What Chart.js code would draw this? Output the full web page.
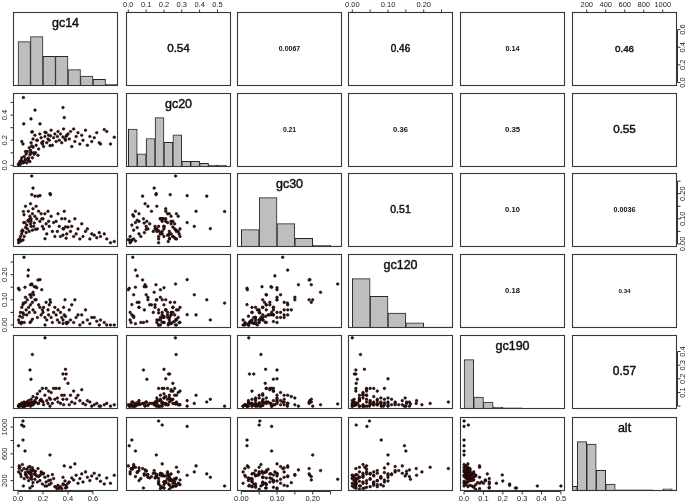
<!DOCTYPE html>
<html>
<head>
<meta charset="utf-8">
<script src="https://cdn.jsdelivr.net/npm/chart.js@4.4.0/dist/chart.umd.min.js"></script>
<style>
  body { margin: 0; background: #fff; width: 685px; height: 502px; overflow: hidden; position: relative; }
  canvas { position: absolute; }
</style>
</head>
<body>
<script>
// ---- observations (one value per site, same order in every array) ----
const gc14 = [0.040, 0.030, 0.046, 0.040, 0.004, 0.056, 0.256, 0.216, 0.115, 0.380,
  0.096, 0.360, 0.385, 0.104, 0.376, 0.400, 0.110, 0.043, 0.136, 0.360,
  0.370, 0.104, 0.176, 0.690, 0.710, 0.770, 0.660, 0.120, 0.110, 0.160,
  0.260, 0.048, 0.083, 0.080, 0.100, 0.010, 0.130, 0.140, 0.150, 0.190,
  0.060, 0.005, 0.010, 0.015, 0.020, 0.025, 0.030, 0.035, 0.050, 0.060,
  0.065, 0.070, 0.075, 0.085, 0.090, 0.095, 0.100, 0.105, 0.115, 0.120,
  0.125, 0.135, 0.145, 0.155, 0.165, 0.175, 0.185, 0.195, 0.200, 0.205,
  0.215, 0.225, 0.230, 0.240, 0.245, 0.250, 0.265, 0.275, 0.285, 0.295,
  0.305, 0.315, 0.320, 0.330, 0.340, 0.350, 0.365, 0.390, 0.410, 0.420,
  0.430, 0.445, 0.455, 0.465, 0.480, 0.495, 0.510, 0.520, 0.540, 0.555,
  0.575, 0.590, 0.610, 0.630, 0.650, 0.740];
const gc20 = [0.170, 0.190, 0.330, 0.020, 0.005, 0.040, 0.157, 0.264, 0.268, 0.200,
  0.085, 0.226, 0.232, 0.104, 0.210, 0.250, 0.265, 0.540, 0.440, 0.460,
  0.380, 0.370, 0.330, 0.285, 0.270, 0.224, 0.170, 0.145, 0.155, 0.080,
  0.235, 0.025, 0.040, 0.050, 0.094, 0.000, 0.089, 0.100, 0.200, 0.180,
  0.110, 0.010, 0.015, 0.030, 0.010, 0.040, 0.060, 0.030, 0.070, 0.050,
  0.090, 0.020, 0.110, 0.060, 0.140, 0.030, 0.120, 0.180, 0.060, 0.210,
  0.100, 0.240, 0.160, 0.200, 0.130, 0.250, 0.220, 0.170, 0.190, 0.150,
  0.230, 0.260, 0.180, 0.210, 0.240, 0.200, 0.280, 0.160, 0.220, 0.250,
  0.190, 0.230, 0.270, 0.200, 0.250, 0.180, 0.290, 0.240, 0.210, 0.270,
  0.150, 0.290, 0.190, 0.230, 0.260, 0.170, 0.240, 0.200, 0.280, 0.160,
  0.230, 0.190, 0.220, 0.260, 0.180, 0.170];
const gc30 = [0.052, 0.050, 0.085, 0.016, 0.016, 0.085, 0.200, 0.021, 0.055, 0.068,
  0.100, 0.035, 0.023, 0.090, 0.100, 0.067, 0.270, 0.129, 0.190, 0.061,
  0.130, 0.070, 0.192, 0.040, 0.020, 0.010, 0.030, 0.222, 0.196, 0.190,
  0.196, 0.116, 0.130, 0.094, 0.160, 0.017, 0.083, 0.058, 0.100, 0.100,
  0.150, 0.005, 0.010, 0.020, 0.030, 0.012, 0.040, 0.055, 0.030, 0.065,
  0.045, 0.075, 0.060, 0.090, 0.050, 0.110, 0.080, 0.100, 0.120, 0.140,
  0.070, 0.110, 0.150, 0.060, 0.130, 0.090, 0.120, 0.070, 0.100, 0.060,
  0.120, 0.080, 0.040, 0.130, 0.090, 0.070, 0.110, 0.050, 0.085, 0.030,
  0.090, 0.050, 0.120, 0.070, 0.030, 0.100, 0.060, 0.040, 0.090, 0.050,
  0.070, 0.030, 0.100, 0.040, 0.060, 0.020, 0.080, 0.030, 0.050, 0.060,
  0.020, 0.040, 0.035, 0.025, 0.045, 0.005];
const gc120 = [0.048, 0.011, 0.041, 0.081, 0.146, 0.150, 0.100, 0.000, 0.023, 0.034,
  0.010, 0.006, 0.010, 0.014, 0.100, 0.011, 0.163, 0.087, 0.100, 0.020,
  0.040, 0.120, 0.180, 0.010, 0.000, 0.000, 0.020, 0.130, 0.160, 0.179,
  0.090, 0.269, 0.218, 0.195, 0.160, 0.140, 0.152, 0.152, 0.148, 0.140,
  0.110, 0.020, 0.010, 0.035, 0.050, 0.005, 0.070, 0.030, 0.010, 0.090,
  0.060, 0.040, 0.100, 0.070, 0.050, 0.120, 0.080, 0.110, 0.090, 0.060,
  0.120, 0.050, 0.100, 0.030, 0.080, 0.070, 0.040, 0.060, 0.050, 0.070,
  0.030, 0.090, 0.020, 0.060, 0.040, 0.080, 0.030, 0.010, 0.050, 0.070,
  0.040, 0.020, 0.060, 0.010, 0.050, 0.030, 0.070, 0.005, 0.060, 0.020,
  0.080, 0.010, 0.100, 0.030, 0.040, 0.000, 0.040, 0.010, 0.060, 0.020,
  0.005, 0.030, 0.030, 0.015, 0.000, 0.000];
const gc190 = [0.000, 0.022, 0.000, 0.000, 0.000, 0.000, 0.000, 0.500, 0.378, 0.270,
  0.265, 0.235, 0.235, 0.197, 0.200, 0.167, 0.016, 0.000, 0.030, 0.050,
  0.080, 0.020, 0.040, 0.010, 0.020, 0.010, 0.000, 0.010, 0.030, 0.020,
  0.050, 0.030, 0.020, 0.010, 0.000, 0.010, 0.020, 0.030, 0.060, 0.040,
  0.010, 0.000, 0.010, 0.000, 0.010, 0.005, 0.020, 0.000, 0.015, 0.025,
  0.010, 0.030, 0.005, 0.040, 0.020, 0.010, 0.020, 0.050, 0.010, 0.070,
  0.030, 0.040, 0.060, 0.090, 0.020, 0.110, 0.050, 0.130, 0.030, 0.010,
  0.080, 0.130, 0.040, 0.020, 0.110, 0.060, 0.100, 0.020, 0.130, 0.050,
  0.130, 0.060, 0.030, 0.130, 0.020, 0.080, 0.010, 0.050, 0.010, 0.080,
  0.030, 0.110, 0.020, 0.060, 0.080, 0.040, 0.120, 0.020, 0.010, 0.040,
  0.030, 0.000, 0.010, 0.020, 0.000, 0.000];
const alt = [1090, 1030, 1010, 806, 721, 642, 583, 120, 120, 90,
  90, 150, 130, 285, 195, 160, 220, 120, 300, 250,
  420, 330, 280, 150, 240, 280, 190, 350, 260, 380,
  210, 380, 400, 330, 360, 420, 300, 340, 270, 310,
  290, 330, 380, 400, 300, 260, 350, 440, 230, 320,
  280, 370, 250, 200, 310, 410, 240, 300, 390, 170,
  350, 220, 280, 180, 260, 200, 330, 150, 300, 310,
  250, 180, 120, 270, 200, 140, 160, 290, 230, 110,
  100, 70, 130, 90, 110, 80, 140, 100, 180, 400,
  240, 210, 450, 280, 160, 230, 300, 180, 330, 250,
  200, 270, 310, 230, 280, 160];

// ---- histogram counts ----
const gc14Counts = [27, 30, 18, 18, 10, 6, 4, 1];          // bins of 0.1 from 0
const gc20Counts = [20, 7, 15, 26, 13, 17, 3, 3, 2, 1, 1];  // bins of 0.05 from 0
const gc30Counts = [20, 57, 27, 10, 2, 1];                 // bins of 0.05 from 0
const gc120Counts = [56, 36, 17, 6, 1, 1];                 // bins of 0.05 from 0
const gc190Counts = [78, 19, 11, 3, 2, 2, 0, 1, 0, 1];     // bins of 0.05 from 0
const altCounts = [4, 43, 41, 18, 6, 1, 1, 1, 1, 0, 2];    // bins of 100 from 0

// ---- tick values ----
const gc14Ticks = [0, 0.2, 0.4, 0.6];
const gc20Ticks = [0, 0.1, 0.2, 0.3, 0.4, 0.5];
const gc30Ticks = [0, 0.05, 0.1, 0.15, 0.2, 0.25];
const gc120Ticks = [0, 0.05, 0.1, 0.15, 0.2, 0.25];
const gc190Ticks = [0, 0.1, 0.2, 0.3, 0.4, 0.5];
const altTicks = [200, 400, 600, 800, 1000];

// ---- correlation labels for the upper panels ----
const corText = [
  [null, '0.54', '0.0067', '0.46', '0.14', '0.46'],
  [null, null, '0.21', '0.36', '0.35', '0.55'],
  [null, null, null, '0.51', '0.10', '0.0036'],
  [null, null, null, null, '0.18', '0.34'],
  [null, null, null, null, null, '0.57']
];
const corSize = [
  [0, 11.7, 7, 10, 7.3, 9.8],
  [0, 0, 6.8, 7.6, 7.8, 11.7],
  [0, 0, 0, 10.5, 7.6, 7.2],
  [0, 0, 0, 0, 7.6, 6.2],
  [0, 0, 0, 0, 0, 12]
];

const names = ['gc14', 'gc20', 'gc30', 'gc120', 'gc190', 'alt'];
const columns = [gc14, gc20, gc30, gc120, gc190, alt];
const counts = [gc14Counts, gc20Counts, gc30Counts, gc120Counts, gc190Counts, altCounts];
const binWidth = [0.1, 0.05, 0.05, 0.05, 0.05, 100];
const ranges = [[-0.04, 0.80], [-0.013, 0.576], [-0.012, 0.282], [-0.012, 0.282], [-0.021, 0.521], [45, 1150]];

// outer axes: R pairs style, alternating sides
const axes = [
  { row: 0, col: 1, side: 'top', ticks: gc20Ticks, labels: ['0.0', '0.1', '0.2', '0.3', '0.4', '0.5'] },
  { row: 0, col: 3, side: 'top', ticks: gc120Ticks, labels: ['0.00', '', '0.10', '', '0.20', ''] },
  { row: 0, col: 5, side: 'top', ticks: altTicks, labels: ['200', '400', '600', '800', '1000'] },
  { row: 5, col: 0, side: 'bottom', ticks: gc14Ticks, labels: ['0.0', '0.2', '0.4', '0.6'] },
  { row: 5, col: 2, side: 'bottom', ticks: gc30Ticks, labels: ['0.00', '', '0.10', '', '0.20', ''] },
  { row: 5, col: 4, side: 'bottom', ticks: gc190Ticks, labels: ['0.0', '0.1', '0.2', '0.3', '0.4', '0.5'] },
  { row: 1, col: 0, side: 'left', ticks: gc20Ticks, labels: ['0.0', '', '0.2', '', '0.4', ''] },
  { row: 3, col: 0, side: 'left', ticks: gc120Ticks, labels: ['0.00', '', '0.10', '', '0.20', ''] },
  { row: 5, col: 0, side: 'left', ticks: altTicks, labels: ['200', '', '600', '', '1000'] },
  { row: 0, col: 5, side: 'right', ticks: gc14Ticks, labels: ['0.0', '0.2', '0.4', '0.6'] },
  { row: 2, col: 5, side: 'right', ticks: gc30Ticks, labels: ['0.00', '', '0.10', '', '0.20', ''] },
  { row: 4, col: 5, side: 'right', ticks: gc190Ticks.slice(0, 5), labels: ['', '0.1', '0.2', '0.3', '0.4'] }
];

// layout
const M = 14;
const colLeft = [13, 126, 237, 348, 460, 572];
const rowTop = [12, 93, 173, 254, 335, 417];
const PW = 105, PH = 74;
const FONT = '"Liberation Sans", Arial, Helvetica, sans-serif';

function drawAxis(chart, ax) {
  const ctx = chart.ctx, a = chart.chartArea;
  const horiz = ax.side === 'top' || ax.side === 'bottom';
  const scale = horiz ? chart.scales.x : chart.scales.y;
  const pos = ax.ticks.map(v => scale.getPixelForValue(v));
  const dir = (ax.side === 'top' || ax.side === 'left') ? -1 : 1;
  ctx.strokeStyle = '#333';
  ctx.lineWidth = 1;
  ctx.fillStyle = '#222';
  ctx.font = '7.5px ' + FONT;
  ctx.textAlign = 'center';
  ctx.textBaseline = 'middle';
  ctx.beginPath();
  if (horiz) {
    const y = (ax.side === 'top' ? a.top : a.bottom) + 0.5;
    ctx.moveTo(pos[0], y);
    ctx.lineTo(pos[pos.length - 1], y);
    pos.forEach(p => { ctx.moveTo(p, y); ctx.lineTo(p, y + dir * 3); });
    ctx.stroke();
    const off = ax.side === 'top' ? 8 : 7;
    pos.forEach((p, i) => { if (ax.labels[i]) ctx.fillText(ax.labels[i], p, y + dir * off); });
  } else {
    const x = (ax.side === 'left' ? a.left : a.right) + 0.5;
    ctx.moveTo(x, pos[0]);
    ctx.lineTo(x, pos[pos.length - 1]);
    pos.forEach(p => { ctx.moveTo(x, p); ctx.lineTo(x + dir * 3, p); });
    ctx.stroke();
    const off = ax.side === 'left' ? 8.5 : 5;
    pos.forEach((p, i) => {
      if (!ax.labels[i]) return;
      ctx.save();
      ctx.translate(x + dir * off, p);
      ctx.rotate(-Math.PI / 2);
      ctx.fillText(ax.labels[i], 0, 0);
      ctx.restore();
    });
  }
}

// regular weight text, thickened slightly with a thin outline
function heavyText(ctx, txt, x, y, size) {
  ctx.font = size + 'px ' + FONT;
  ctx.fillText(txt, x, y);
  ctx.lineWidth = 0.45;
  ctx.strokeStyle = '#111';
  ctx.strokeText(txt, x, y);
}

function panelPlugin(r, c) {
  return {
    id: 'panel' + r + '_' + c,
    afterDatasetsDraw(chart) {
      const ctx = chart.ctx, a = chart.chartArea;
      ctx.save();
      ctx.fillStyle = '#111';
      ctx.textAlign = 'center';
      ctx.textBaseline = 'middle';
      const cx = (a.left + a.right) / 2;
      if (r === c) {
        heavyText(ctx, names[r], cx, a.top + 12, 12.5);
      } else if (r < c) {
        const s = corSize[r][c];
        if (s < 9) {
          ctx.font = 'bold ' + s + 'px ' + FONT;
          ctx.fillText(corText[r][c], cx, (a.top + a.bottom) / 2);
        } else {
          heavyText(ctx, corText[r][c], cx, (a.top + a.bottom) / 2, s);
        }
      }
      ctx.strokeStyle = '#383838';
      ctx.lineWidth = 1.1;
      ctx.strokeRect(Math.round(a.left) + 0.5, Math.round(a.top) + 0.5, Math.round(a.width) - 1, Math.round(a.height) - 1);
      axes.filter(ax => ax.row === r && ax.col === c).forEach(ax => drawAxis(chart, ax));
      ctx.restore();
    }
  };
}

for (let r = 0; r < 6; r++) {
  for (let c = 0; c < 6; c++) {
    const cv = document.createElement('canvas');
    cv.width = PW + 2 * M;
    cv.height = PH + 2 * M;
    cv.style.left = (colLeft[c] - M) + 'px';
    cv.style.top = (rowTop[r] - M) + 'px';
    document.body.appendChild(cv);

    let type, datasets, yMin, yMax;
    const xScale = { type: 'linear', display: false, offset: false, min: ranges[c][0], max: ranges[c][1] };
    if (r === c) {
      type = 'bar';
      const w = binWidth[c];
      const bins = counts[c];
      const edges = bins.map((n, k) => k * w).concat([bins.length * w]);
      xScale.afterBuildTicks = s => { s.ticks = edges.map(v => ({ value: v })); };
      datasets = [{
        data: bins.map((n, k) => ({ x: (k + 0.5) * w, y: n })).filter(p => p.y > 0),
        backgroundColor: '#bebebe',
        borderColor: '#262626',
        borderWidth: 1,
        borderSkipped: false,
        barPercentage: 1,
        categoryPercentage: 1
      }];
      yMin = 0;
      yMax = Math.max(...bins) * 1.5;
    } else {
      type = 'scatter';
      yMin = ranges[r][0];
      yMax = ranges[r][1];
      datasets = [];
      if (r > c) {
        datasets = [{
          data: columns[c].map((v, i) => ({ x: v, y: columns[r][i] })),
          pointRadius: 1.3,
          pointBackgroundColor: '#3c1010',
          pointBorderColor: '#120606',
          pointBorderWidth: 0.6
        }];
      }
    }

    new Chart(cv, {
      type: type,
      data: { datasets: datasets },
      options: {
        responsive: false,
        animation: false,
        events: [],
        layout: { padding: M },
        plugins: { legend: { display: false }, tooltip: { enabled: false } },
        scales: {
          x: xScale,
          y: { type: 'linear', display: false, min: yMin, max: yMax }
        }
      },
      plugins: [panelPlugin(r, c)]
    });
  }
}
</script>
</body>
</html>
